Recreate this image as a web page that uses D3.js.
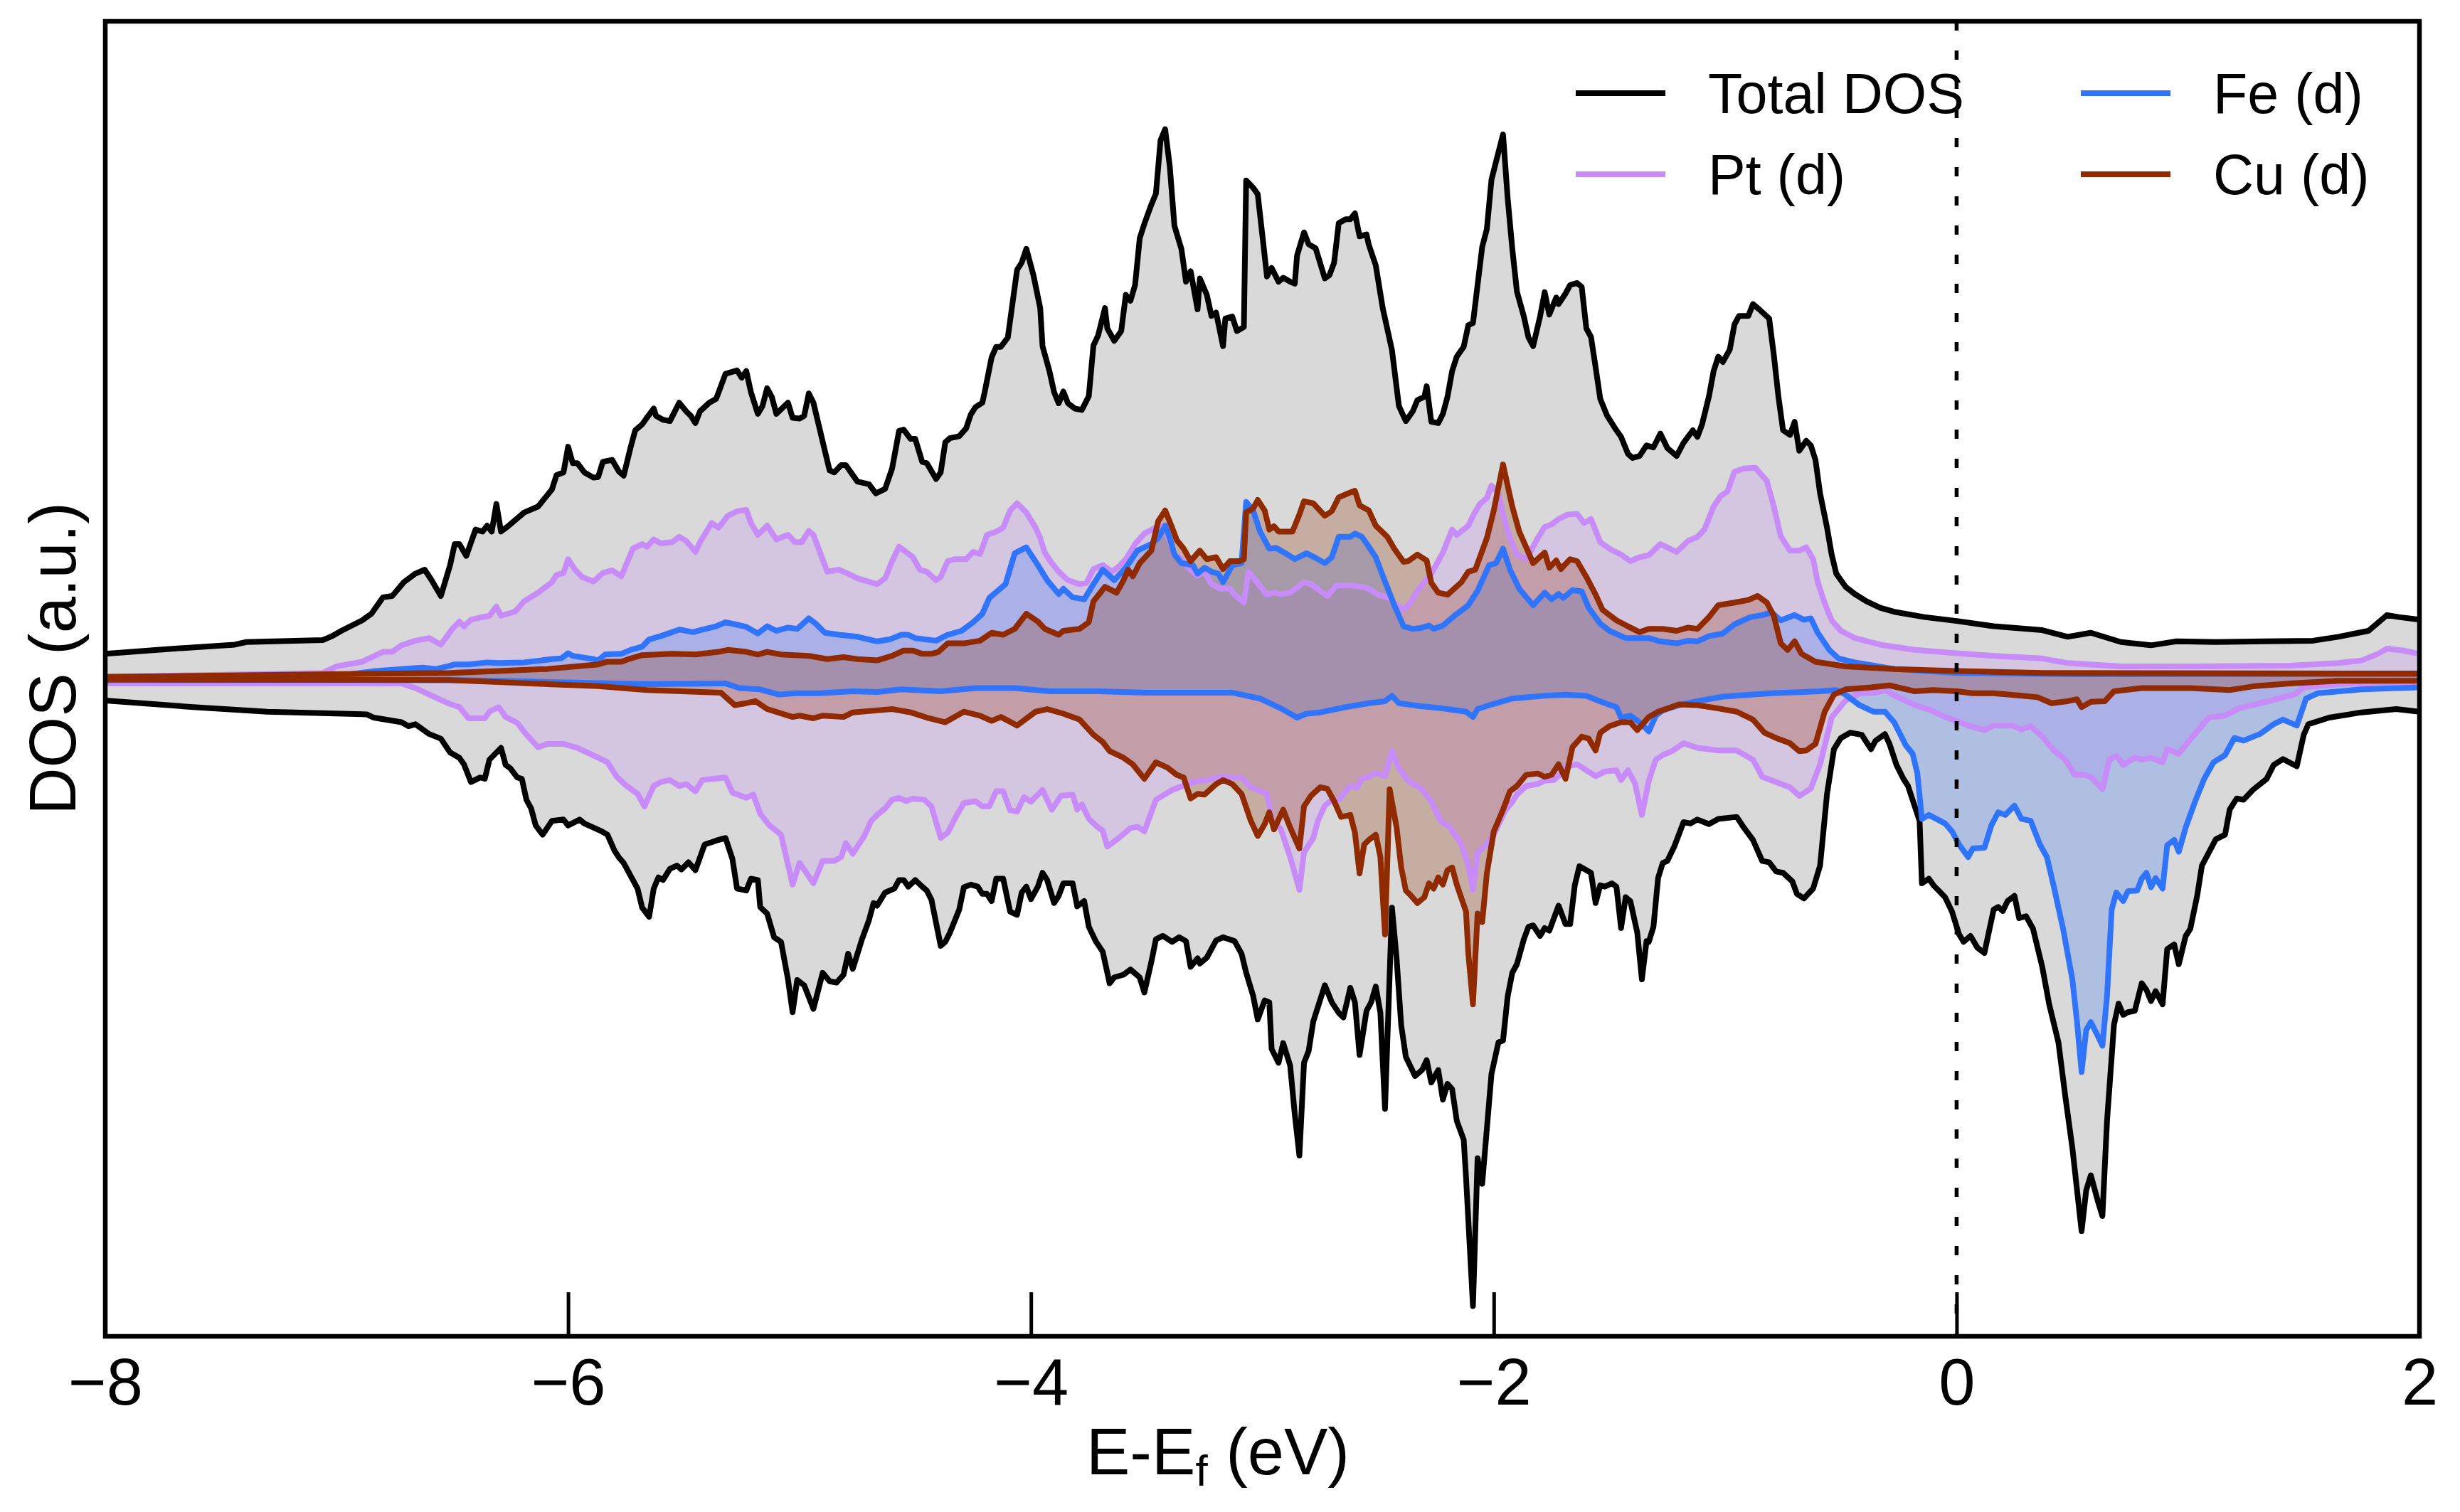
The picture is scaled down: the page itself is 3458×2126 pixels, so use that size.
<!DOCTYPE html>
<html>
<head>
<meta charset="utf-8">
<script src="https://cdn.jsdelivr.net/npm/d3@7"></script>
<style>
html,body{margin:0;padding:0;background:#fff;}
svg{display:block;}
text{font-family:"Liberation Sans",Arial,sans-serif;fill:#000;}
</style>
</head>
<body>
<svg id="chart" width="3458" height="2126"></svg>
<script>
// ---------- data (energy in eV, DOS in arbitrary units; spin down negative) ----------
const xTicks = [-8, -6, -4, -2, 0, 2];
const seriesNames = ["Total DOS", "Pt (d)", "Fe (d)", "Cu (d)"];

const totalUp = [[-8.00,0.38],[-7.70,0.46],[-7.44,0.52],[-7.39,0.56],[-7.06,0.59],[-7.02,0.65],[-6.98,0.73],[-6.89,0.89],[-6.85,0.99],[-6.80,1.24],[-6.76,1.26],[-6.71,1.47],[-6.66,1.60],[-6.62,1.66],[-6.59,1.50],[-6.55,1.26],[-6.51,1.73],[-6.49,2.05],[-6.47,2.05],[-6.44,1.87],[-6.40,2.27],[-6.37,2.24],[-6.35,2.33],[-6.33,2.24],[-6.31,2.66],[-6.29,2.24],[-6.26,2.32],[-6.19,2.53],[-6.13,2.62],[-6.07,2.88],[-6.05,3.10],[-6.02,3.14],[-6.00,3.53],[-5.98,3.28],[-5.96,3.28],[-5.93,3.14],[-5.89,3.06],[-5.87,3.07],[-5.85,3.30],[-5.81,3.33],[-5.78,3.15],[-5.76,3.09],[-5.73,3.52],[-5.71,3.78],[-5.68,3.87],[-5.66,3.97],[-5.63,4.11],[-5.62,4.00],[-5.59,3.94],[-5.56,3.92],[-5.52,4.20],[-5.49,4.07],[-5.47,4.00],[-5.45,3.89],[-5.43,4.07],[-5.39,4.20],[-5.36,4.26],[-5.32,4.64],[-5.27,4.69],[-5.25,4.58],[-5.23,4.68],[-5.21,4.36],[-5.18,4.03],[-5.16,4.15],[-5.14,4.42],[-5.12,4.29],[-5.10,4.03],[-5.05,4.20],[-5.03,3.97],[-5.00,3.96],[-4.98,4.00],[-4.96,4.34],[-4.94,4.20],[-4.89,3.46],[-4.87,3.17],[-4.85,3.14],[-4.82,3.25],[-4.80,3.25],[-4.77,3.10],[-4.75,3.00],[-4.70,2.96],[-4.67,2.82],[-4.63,2.89],[-4.60,3.20],[-4.57,3.77],[-4.55,3.79],[-4.52,3.65],[-4.50,3.65],[-4.47,3.30],[-4.45,3.28],[-4.41,3.04],[-4.39,3.14],[-4.37,3.60],[-4.35,3.66],[-4.31,3.69],[-4.28,3.81],[-4.26,4.02],[-4.24,4.13],[-4.21,4.20],[-4.20,4.36],[-4.17,4.89],[-4.15,5.05],[-4.13,5.05],[-4.10,5.19],[-4.06,6.22],[-4.04,6.33],[-4.02,6.54],[-3.99,6.15],[-3.96,5.64],[-3.95,5.06],[-3.92,4.68],[-3.90,4.36],[-3.88,4.19],[-3.86,4.37],[-3.84,4.19],[-3.81,4.11],[-3.78,4.09],[-3.75,4.30],[-3.73,5.07],[-3.71,5.22],[-3.68,5.64],[-3.67,5.33],[-3.64,5.14],[-3.61,5.29],[-3.59,5.84],[-3.57,5.75],[-3.55,5.99],[-3.53,6.70],[-3.51,6.92],[-3.48,7.21],[-3.46,7.38],[-3.44,8.19],[-3.42,8.36],[-3.40,7.79],[-3.38,6.89],[-3.35,6.54],[-3.33,6.04],[-3.31,6.20],[-3.28,5.62],[-3.27,6.09],[-3.24,5.84],[-3.22,5.52],[-3.20,5.57],[-3.17,5.06],[-3.16,5.48],[-3.13,5.51],[-3.11,5.29],[-3.08,5.35],[-3.07,7.58],[-3.04,7.47],[-3.02,7.37],[-2.98,6.12],[-2.96,6.25],[-2.93,6.04],[-2.91,6.10],[-2.88,6.04],[-2.86,6.01],[-2.85,6.44],[-2.82,6.79],[-2.80,6.61],[-2.77,6.55],[-2.73,6.09],[-2.71,6.14],[-2.69,6.33],[-2.67,6.93],[-2.64,6.99],[-2.62,6.99],[-2.60,7.08],[-2.58,6.73],[-2.55,6.76],[-2.54,6.60],[-2.51,6.29],[-2.48,5.64],[-2.44,5.00],[-2.41,4.15],[-2.38,3.92],[-2.35,4.07],[-2.33,4.24],[-2.30,4.29],[-2.29,4.45],[-2.27,3.91],[-2.24,3.89],[-2.22,4.03],[-2.20,4.29],[-2.18,4.68],[-2.16,4.90],[-2.13,5.05],[-2.11,5.38],[-2.09,5.41],[-2.05,6.57],[-2.03,6.84],[-2.01,7.59],[-1.99,7.87],[-1.96,8.28],[-1.94,7.31],[-1.92,6.54],[-1.90,5.89],[-1.87,5.51],[-1.85,5.19],[-1.83,5.06],[-1.80,5.51],[-1.78,5.88],[-1.76,5.54],[-1.73,5.80],[-1.72,5.70],[-1.69,5.86],[-1.67,5.99],[-1.64,6.02],[-1.62,5.96],[-1.60,5.33],[-1.58,5.20],[-1.56,4.74],[-1.54,4.26],[-1.51,4.00],[-1.47,3.78],[-1.45,3.68],[-1.42,3.42],[-1.40,3.36],[-1.37,3.39],[-1.34,3.55],[-1.31,3.52],[-1.28,3.73],[-1.25,3.51],[-1.21,3.39],[-1.18,3.59],[-1.14,3.78],[-1.12,3.68],[-1.10,3.87],[-1.07,4.30],[-1.05,4.68],[-1.03,4.90],[-1.01,4.82],[-0.98,5.01],[-0.96,5.39],[-0.94,5.52],[-0.90,5.52],[-0.88,5.70],[-0.85,5.61],[-0.81,5.48],[-0.79,4.93],[-0.77,4.29],[-0.75,3.78],[-0.72,3.71],[-0.70,3.91],[-0.68,3.47],[-0.65,3.62],[-0.63,3.55],[-0.61,3.33],[-0.59,2.82],[-0.56,2.30],[-0.54,1.89],[-0.52,1.60],[-0.48,1.40],[-0.44,1.29],[-0.39,1.18],[-0.33,1.08],[-0.27,1.02],[-0.14,0.94],[0.00,0.88],[0.16,0.80],[0.37,0.74],[0.48,0.64],[0.58,0.70],[0.71,0.56],[0.84,0.51],[0.95,0.57],[1.12,0.56],[1.33,0.57],[1.54,0.58],[1.65,0.64],[1.78,0.73],[1.86,0.97],[1.91,0.94],[2.00,0.90]];

const totalDown = [[-8.00,-0.33],[-7.62,-0.43],[-7.30,-0.50],[-6.87,-0.54],[-6.84,-0.59],[-6.72,-0.66],[-6.69,-0.72],[-6.66,-0.69],[-6.60,-0.84],[-6.55,-0.91],[-6.51,-1.12],[-6.47,-1.20],[-6.45,-1.30],[-6.42,-1.57],[-6.38,-1.50],[-6.36,-1.52],[-6.34,-1.23],[-6.29,-1.05],[-6.27,-1.31],[-6.25,-1.36],[-6.22,-1.50],[-6.20,-1.52],[-6.18,-1.84],[-6.16,-1.97],[-6.14,-2.23],[-6.11,-2.37],[-6.07,-2.16],[-6.02,-2.14],[-6.00,-2.23],[-5.95,-2.14],[-5.93,-2.20],[-5.86,-2.31],[-5.83,-2.37],[-5.80,-2.61],[-5.78,-2.72],[-5.76,-2.80],[-5.70,-3.19],[-5.68,-3.48],[-5.65,-3.62],[-5.63,-3.19],[-5.61,-3.02],[-5.59,-3.06],[-5.56,-2.89],[-5.53,-2.84],[-5.51,-2.90],[-5.48,-2.79],[-5.45,-2.91],[-5.41,-2.52],[-5.36,-2.46],[-5.32,-2.42],[-5.29,-2.74],[-5.27,-3.19],[-5.23,-3.22],[-5.21,-3.04],[-5.18,-3.06],[-5.17,-3.47],[-5.14,-3.57],[-5.11,-3.93],[-5.08,-4.00],[-5.05,-4.57],[-5.03,-5.07],[-5.01,-4.58],[-4.98,-4.66],[-4.94,-5.02],[-4.90,-4.47],[-4.87,-4.60],[-4.84,-4.62],[-4.81,-4.50],[-4.79,-4.18],[-4.77,-4.41],[-4.73,-3.96],[-4.70,-3.67],[-4.68,-3.41],[-4.665,-3.45],[-4.63,-3.25],[-4.59,-3.19],[-4.57,-3.06],[-4.55,-3.06],[-4.53,-3.16],[-4.50,-3.06],[-4.47,-3.16],[-4.45,-3.22],[-4.43,-3.36],[-4.39,-4.06],[-4.37,-4.00],[-4.35,-3.86],[-4.31,-3.51],[-4.29,-3.17],[-4.26,-3.13],[-4.23,-3.16],[-4.21,-3.27],[-4.19,-3.27],[-4.17,-3.38],[-4.15,-3.04],[-4.12,-3.04],[-4.09,-3.54],[-4.06,-3.59],[-4.04,-3.25],[-4.02,-3.16],[-4.00,-3.35],[-3.97,-3.16],[-3.95,-2.95],[-3.93,-3.06],[-3.90,-3.41],[-3.88,-3.30],[-3.86,-3.11],[-3.82,-3.11],[-3.80,-3.46],[-3.77,-3.38],[-3.75,-3.77],[-3.72,-3.99],[-3.69,-4.15],[-3.66,-4.63],[-3.64,-4.54],[-3.60,-4.50],[-3.57,-4.42],[-3.53,-4.54],[-3.51,-4.77],[-3.48,-4.31],[-3.46,-3.96],[-3.43,-3.91],[-3.39,-4.00],[-3.36,-3.93],[-3.33,-3.99],[-3.31,-4.38],[-3.28,-4.25],[-3.27,-4.33],[-3.24,-4.24],[-3.20,-3.98],[-3.17,-3.93],[-3.12,-3.99],[-3.09,-4.18],[-3.07,-4.47],[-3.04,-4.82],[-3.02,-5.18],[-2.99,-4.89],[-2.97,-4.92],[-2.96,-5.63],[-2.93,-5.84],[-2.91,-5.54],[-2.88,-5.88],[-2.86,-6.62],[-2.84,-7.25],[-2.82,-5.84],[-2.80,-5.66],[-2.78,-5.21],[-2.73,-4.66],[-2.70,-4.92],[-2.67,-5.08],[-2.65,-5.15],[-2.62,-4.70],[-2.60,-4.92],[-2.58,-5.72],[-2.55,-5.05],[-2.53,-4.92],[-2.51,-4.68],[-2.49,-5.08],[-2.47,-6.54],[-2.44,-3.48],[-2.42,-4.25],[-2.40,-5.27],[-2.38,-5.75],[-2.34,-6.04],[-2.31,-5.95],[-2.29,-5.80],[-2.27,-6.14],[-2.24,-5.95],[-2.22,-6.40],[-2.20,-6.16],[-2.18,-6.24],[-2.16,-6.72],[-2.13,-7.01],[-2.12,-7.58],[-2.09,-9.54],[-2.07,-7.29],[-2.05,-7.68],[-2.01,-6.01],[-1.98,-5.53],[-1.96,-5.50],[-1.94,-4.83],[-1.92,-4.47],[-1.90,-4.34],[-1.87,-3.96],[-1.85,-3.77],[-1.83,-3.75],[-1.80,-3.91],[-1.78,-3.79],[-1.76,-3.83],[-1.72,-3.45],[-1.69,-3.73],[-1.67,-3.73],[-1.65,-3.14],[-1.63,-2.85],[-1.60,-2.91],[-1.58,-2.95],[-1.56,-3.41],[-1.54,-3.14],[-1.52,-3.16],[-1.49,-3.11],[-1.47,-3.16],[-1.45,-3.79],[-1.43,-3.32],[-1.41,-3.38],[-1.38,-3.86],[-1.36,-4.57],[-1.34,-3.99],[-1.33,-4.00],[-1.31,-3.77],[-1.29,-3.03],[-1.27,-2.80],[-1.25,-2.77],[-1.22,-2.55],[-1.18,-2.18],[-1.15,-2.20],[-1.12,-2.14],[-1.07,-2.21],[-1.03,-2.13],[-0.95,-2.10],[-0.92,-2.26],[-0.88,-2.45],[-0.84,-2.77],[-0.81,-2.79],[-0.78,-2.93],[-0.75,-2.95],[-0.71,-3.08],[-0.69,-3.27],[-0.66,-3.34],[-0.62,-3.19],[-0.59,-2.84],[-0.56,-1.75],[-0.53,-1.07],[-0.50,-0.90],[-0.46,-0.82],[-0.41,-0.85],[-0.37,-1.07],[-0.35,-0.94],[-0.31,-0.84],[-0.29,-0.99],[-0.26,-1.31],[-0.23,-1.52],[-0.21,-1.63],[-0.16,-2.16],[-0.15,-3.11],[-0.12,-3.04],[-0.10,-3.14],[-0.05,-3.32],[-0.02,-3.54],[0.01,-3.88],[0.03,-4.00],[0.06,-3.91],[0.09,-4.09],[0.12,-4.17],[0.16,-3.51],[0.18,-3.47],[0.20,-3.53],[0.22,-3.38],[0.25,-3.30],[0.27,-3.64],[0.30,-3.61],[0.33,-3.80],[0.37,-4.38],[0.40,-4.95],[0.44,-5.53],[0.47,-6.36],[0.50,-7.13],[0.54,-8.40],[0.56,-7.78],[0.58,-7.55],[0.61,-7.94],[0.63,-8.17],[0.65,-6.72],[0.68,-5.26],[0.70,-4.94],[0.72,-5.11],[0.74,-5.07],[0.77,-5.05],[0.80,-4.63],[0.82,-4.73],[0.84,-4.90],[0.86,-4.75],[0.89,-4.95],[0.91,-4.11],[0.94,-4.04],[0.96,-4.34],[0.99,-3.91],[1.01,-3.80],[1.04,-3.29],[1.06,-2.84],[1.09,-2.64],[1.12,-2.44],[1.16,-2.37],[1.18,-1.99],[1.21,-1.82],[1.24,-1.84],[1.28,-1.69],[1.34,-1.52],[1.37,-1.31],[1.41,-1.22],[1.47,-1.33],[1.50,-0.85],[1.52,-0.69],[1.61,-0.59],[1.75,-0.51],[1.90,-0.46],[2.00,-0.50]];

const ptUp = [[-8.00,0.03],[-7.06,0.09],[-7.00,0.19],[-6.89,0.26],[-6.80,0.41],[-6.76,0.41],[-6.72,0.51],[-6.66,0.58],[-6.60,0.62],[-6.55,0.52],[-6.50,0.76],[-6.47,0.87],[-6.45,0.80],[-6.42,0.90],[-6.37,0.94],[-6.34,0.96],[-6.31,1.10],[-6.29,0.96],[-6.23,1.02],[-6.19,1.18],[-6.13,1.31],[-6.07,1.47],[-6.05,1.58],[-6.02,1.61],[-6.00,1.82],[-5.97,1.66],[-5.94,1.55],[-5.89,1.48],[-5.85,1.61],[-5.81,1.65],[-5.77,1.56],[-5.75,1.73],[-5.72,1.98],[-5.68,2.05],[-5.66,2.01],[-5.63,2.12],[-5.60,2.06],[-5.55,2.08],[-5.52,2.16],[-5.49,2.10],[-5.45,1.93],[-5.43,2.08],[-5.38,2.37],[-5.35,2.30],[-5.31,2.48],[-5.27,2.55],[-5.23,2.57],[-5.21,2.37],[-5.18,2.19],[-5.14,2.33],[-5.10,2.12],[-5.05,2.19],[-5.02,2.08],[-4.99,2.08],[-4.96,2.25],[-4.94,2.19],[-4.88,1.63],[-4.83,1.66],[-4.79,1.60],[-4.75,1.53],[-4.665,1.44],[-4.63,1.53],[-4.60,1.79],[-4.57,2.01],[-4.54,1.93],[-4.51,1.85],[-4.48,1.66],[-4.45,1.63],[-4.41,1.50],[-4.39,1.55],[-4.36,1.79],[-4.33,1.82],[-4.28,1.82],[-4.25,1.93],[-4.22,1.90],[-4.19,2.19],[-4.15,2.24],[-4.12,2.30],[-4.09,2.56],[-4.06,2.67],[-4.02,2.53],[-3.98,2.30],[-3.96,2.14],[-3.94,1.92],[-3.91,1.76],[-3.88,1.63],[-3.84,1.50],[-3.79,1.44],[-3.76,1.46],[-3.73,1.67],[-3.69,1.73],[-3.65,1.63],[-3.62,1.71],[-3.59,1.82],[-3.55,2.05],[-3.51,2.21],[-3.46,2.30],[-3.43,2.33],[-3.40,2.11],[-3.38,1.90],[-3.35,1.82],[-3.32,1.69],[-3.28,1.57],[-3.25,1.63],[-3.22,1.44],[-3.18,1.37],[-3.14,1.37],[-3.12,1.28],[-3.08,1.16],[-3.06,1.63],[-3.03,1.50],[-2.98,1.28],[-2.95,1.31],[-2.92,1.29],[-2.88,1.31],[-2.82,1.47],[-2.79,1.44],[-2.75,1.34],[-2.72,1.26],[-2.68,1.42],[-2.62,1.42],[-2.57,1.40],[-2.54,1.37],[-2.50,1.28],[-2.45,1.23],[-2.42,1.12],[-2.39,1.05],[-2.36,1.16],[-2.33,1.34],[-2.27,1.60],[-2.22,1.92],[-2.18,2.27],[-2.16,2.19],[-2.11,2.33],[-2.09,2.48],[-2.06,2.66],[-2.03,2.75],[-2.01,2.94],[-1.98,2.82],[-1.96,2.50],[-1.93,2.14],[-1.90,1.89],[-1.86,1.82],[-1.81,2.14],[-1.78,2.31],[-1.75,2.35],[-1.72,2.43],[-1.68,2.50],[-1.64,2.51],[-1.61,2.37],[-1.58,2.43],[-1.54,2.08],[-1.50,1.98],[-1.45,1.89],[-1.41,1.79],[-1.37,1.85],[-1.33,1.88],[-1.28,2.05],[-1.21,1.93],[-1.16,2.10],[-1.12,2.16],[-1.09,2.27],[-1.05,2.62],[-1.02,2.78],[-0.99,2.85],[-0.96,3.15],[-0.92,3.20],[-0.87,3.21],[-0.82,3.01],[-0.79,2.62],[-0.76,2.17],[-0.72,1.95],[-0.68,1.95],[-0.65,2.00],[-0.62,1.82],[-0.60,1.47],[-0.57,1.15],[-0.54,0.89],[-0.50,0.73],[-0.44,0.62],[-0.33,0.52],[-0.18,0.44],[0.00,0.39],[0.16,0.35],[0.37,0.31],[0.48,0.24],[0.71,0.19],[1.01,0.19],[1.44,0.20],[1.65,0.24],[1.75,0.28],[1.82,0.38],[1.86,0.46],[1.93,0.43],[2.00,0.38]];

const ptDown = [[-8.00,-0.07],[-6.72,-0.07],[-6.66,-0.14],[-6.60,-0.24],[-6.52,-0.37],[-6.47,-0.43],[-6.43,-0.60],[-6.36,-0.60],[-6.34,-0.50],[-6.30,-0.43],[-6.27,-0.58],[-6.22,-0.67],[-6.18,-0.85],[-6.13,-1.04],[-6.09,-0.99],[-6.02,-0.99],[-5.96,-1.05],[-5.87,-1.20],[-5.83,-1.27],[-5.79,-1.49],[-5.75,-1.62],[-5.70,-1.75],[-5.67,-1.94],[-5.63,-1.63],[-5.60,-1.57],[-5.56,-1.54],[-5.52,-1.63],[-5.49,-1.60],[-5.45,-1.71],[-5.42,-1.54],[-5.32,-1.50],[-5.29,-1.73],[-5.23,-1.81],[-5.20,-1.76],[-5.17,-2.05],[-5.13,-2.23],[-5.08,-2.37],[-5.03,-3.13],[-5.00,-2.80],[-4.94,-3.11],[-4.90,-2.77],[-4.85,-2.77],[-4.82,-2.71],[-4.80,-2.50],[-4.77,-2.66],[-4.72,-2.39],[-4.69,-2.16],[-4.665,-2.07],[-4.63,-1.97],[-4.60,-1.84],[-4.57,-1.81],[-4.54,-1.86],[-4.51,-1.82],[-4.46,-1.84],[-4.43,-1.94],[-4.39,-2.42],[-4.36,-2.34],[-4.32,-2.07],[-4.29,-1.89],[-4.24,-1.86],[-4.21,-1.94],[-4.18,-1.94],[-4.15,-1.71],[-4.12,-1.71],[-4.09,-2.00],[-4.06,-2.02],[-4.03,-1.80],[-4.00,-1.87],[-3.95,-1.69],[-3.91,-1.99],[-3.87,-1.78],[-3.82,-1.76],[-3.80,-1.99],[-3.78,-1.91],[-3.75,-2.13],[-3.71,-2.26],[-3.69,-2.31],[-3.67,-2.55],[-3.62,-2.42],[-3.57,-2.27],[-3.54,-2.25],[-3.51,-2.32],[-3.46,-1.84],[-3.39,-1.69],[-3.30,-1.57],[-3.24,-1.54],[-3.18,-1.49],[-3.09,-1.50],[-3.05,-1.65],[-2.98,-1.75],[-2.96,-2.13],[-2.92,-2.29],[-2.88,-2.71],[-2.84,-3.21],[-2.82,-2.64],[-2.78,-2.42],[-2.76,-2.16],[-2.73,-1.93],[-2.71,-1.87],[-2.67,-1.84],[-2.62,-1.63],[-2.59,-1.65],[-2.57,-1.52],[-2.54,-1.49],[-2.51,-1.43],[-2.47,-1.48],[-2.44,-1.10],[-2.41,-1.37],[-2.37,-1.55],[-2.31,-1.68],[-2.27,-1.87],[-2.23,-2.16],[-2.19,-2.26],[-2.14,-2.52],[-2.11,-2.84],[-2.09,-3.21],[-2.07,-2.64],[-2.03,-2.52],[-2.00,-2.37],[-1.95,-2.00],[-1.92,-1.87],[-1.90,-1.76],[-1.86,-1.63],[-1.81,-1.60],[-1.78,-1.55],[-1.74,-1.54],[-1.71,-1.44],[-1.69,-1.33],[-1.64,-1.30],[-1.60,-1.39],[-1.56,-1.48],[-1.52,-1.41],[-1.47,-1.39],[-1.45,-1.54],[-1.42,-1.39],[-1.39,-1.59],[-1.36,-2.07],[-1.33,-1.55],[-1.30,-1.23],[-1.27,-1.16],[-1.23,-1.10],[-1.18,-0.98],[-1.12,-1.05],[-1.03,-1.09],[-0.95,-1.09],[-0.88,-1.23],[-0.84,-1.49],[-0.78,-1.57],[-0.72,-1.65],[-0.68,-1.78],[-0.63,-1.67],[-0.59,-1.30],[-0.54,-0.59],[-0.48,-0.33],[-0.42,-0.22],[-0.35,-0.21],[-0.31,-0.17],[-0.26,-0.27],[-0.18,-0.40],[-0.11,-0.48],[-0.05,-0.58],[0.00,-0.64],[0.05,-0.71],[0.12,-0.78],[0.16,-0.71],[0.24,-0.71],[0.28,-0.77],[0.32,-0.72],[0.37,-0.88],[0.42,-1.09],[0.47,-1.23],[0.51,-1.46],[0.55,-1.46],[0.58,-1.49],[0.63,-1.68],[0.66,-1.23],[0.69,-1.17],[0.72,-1.31],[0.77,-1.20],[0.80,-1.23],[0.84,-1.20],[0.89,-1.27],[0.91,-1.07],[0.96,-1.14],[0.99,-1.01],[1.02,-0.88],[1.09,-0.59],[1.16,-0.56],[1.22,-0.45],[1.35,-0.34],[1.41,-0.28],[1.46,-0.24],[1.50,-0.13],[1.65,-0.08],[2.00,-0.05]];

const feUp = [[-8.00,0.03],[-7.06,0.03],[-6.94,0.07],[-6.83,0.12],[-6.72,0.15],[-6.63,0.17],[-6.57,0.15],[-6.52,0.19],[-6.49,0.22],[-6.43,0.22],[-6.35,0.25],[-6.30,0.24],[-6.19,0.25],[-6.07,0.30],[-6.03,0.31],[-6.00,0.39],[-5.98,0.35],[-5.89,0.30],[-5.87,0.28],[-5.84,0.37],[-5.77,0.38],[-5.73,0.44],[-5.68,0.49],[-5.65,0.60],[-5.60,0.65],[-5.55,0.71],[-5.52,0.75],[-5.46,0.71],[-5.43,0.74],[-5.36,0.80],[-5.32,0.86],[-5.28,0.83],[-5.23,0.79],[-5.18,0.69],[-5.14,0.80],[-5.10,0.73],[-5.05,0.78],[-5.01,0.76],[-4.96,0.92],[-4.93,0.84],[-4.89,0.70],[-4.83,0.67],[-4.75,0.64],[-4.665,0.57],[-4.61,0.60],[-4.56,0.67],[-4.53,0.67],[-4.50,0.62],[-4.41,0.58],[-4.36,0.67],[-4.30,0.73],[-4.25,0.86],[-4.21,0.99],[-4.18,1.23],[-4.14,1.35],[-4.11,1.44],[-4.07,1.91],[-4.02,2.00],[-3.97,1.73],[-3.93,1.50],[-3.88,1.29],[-3.86,1.37],[-3.82,1.24],[-3.77,1.21],[-3.73,1.44],[-3.69,1.66],[-3.64,1.50],[-3.59,1.69],[-3.54,1.95],[-3.48,2.05],[-3.45,2.14],[-3.42,2.33],[-3.40,2.14],[-3.38,1.89],[-3.35,1.76],[-3.30,1.73],[-3.28,1.60],[-3.25,1.69],[-3.22,1.63],[-3.19,1.60],[-3.17,1.47],[-3.13,1.73],[-3.09,1.76],[-3.07,2.69],[-3.04,2.56],[-3.01,2.24],[-2.97,1.98],[-2.94,1.99],[-2.90,1.91],[-2.86,1.82],[-2.81,1.91],[-2.77,1.84],[-2.73,1.76],[-2.70,1.85],[-2.67,2.16],[-2.62,2.16],[-2.60,2.21],[-2.57,2.16],[-2.54,2.01],[-2.51,1.85],[-2.48,1.57],[-2.43,1.12],[-2.39,0.80],[-2.35,0.76],[-2.32,0.77],[-2.28,0.81],[-2.26,0.76],[-2.22,0.81],[-2.17,0.96],[-2.11,1.12],[-2.07,1.34],[-2.02,1.73],[-1.99,1.76],[-1.96,1.98],[-1.93,1.66],[-1.89,1.37],[-1.83,1.12],[-1.78,1.31],[-1.75,1.21],[-1.72,1.29],[-1.70,1.23],[-1.66,1.35],[-1.62,1.33],[-1.59,1.08],[-1.54,0.84],[-1.50,0.73],[-1.43,0.62],[-1.37,0.62],[-1.33,0.62],[-1.28,0.57],[-1.21,0.54],[-1.16,0.58],[-1.12,0.57],[-1.07,0.65],[-1.01,0.69],[-0.96,0.83],[-0.89,0.94],[-0.84,0.97],[-0.80,1.01],[-0.76,0.89],[-0.70,0.97],[-0.66,0.90],[-0.63,0.92],[-0.60,0.70],[-0.55,0.44],[-0.51,0.31],[-0.44,0.25],[-0.27,0.15],[0.00,0.09],[0.50,0.07],[2.00,0.07]];

const feDown = [[-8.00,-0.02],[-6.51,-0.02],[-6.30,-0.03],[-5.66,-0.08],[-5.32,-0.07],[-5.26,-0.14],[-5.17,-0.16],[-5.09,-0.24],[-5.02,-0.22],[-4.91,-0.22],[-4.77,-0.19],[-4.665,-0.20],[-4.56,-0.16],[-4.39,-0.19],[-4.24,-0.14],[-4.07,-0.14],[-3.92,-0.19],[-3.71,-0.19],[-3.50,-0.21],[-3.28,-0.21],[-3.13,-0.21],[-3.01,-0.30],[-2.92,-0.45],[-2.85,-0.59],[-2.81,-0.53],[-2.75,-0.51],[-2.64,-0.43],[-2.54,-0.37],[-2.47,-0.34],[-2.44,-0.26],[-2.41,-0.37],[-2.33,-0.41],[-2.22,-0.45],[-2.12,-0.50],[-2.09,-0.58],[-2.07,-0.46],[-2.01,-0.39],[-1.92,-0.30],[-1.79,-0.26],[-1.69,-0.24],[-1.60,-0.26],[-1.52,-0.37],[-1.47,-0.43],[-1.45,-0.59],[-1.41,-0.56],[-1.37,-0.66],[-1.33,-0.80],[-1.30,-0.56],[-1.27,-0.48],[-1.20,-0.40],[-1.12,-0.34],[-1.01,-0.27],[-0.80,-0.22],[-0.59,-0.19],[-0.52,-0.17],[-0.48,-0.24],[-0.42,-0.40],[-0.36,-0.50],[-0.31,-0.50],[-0.27,-0.66],[-0.22,-1.01],[-0.19,-1.14],[-0.17,-1.43],[-0.15,-2.13],[-0.12,-2.07],[-0.05,-2.20],[-0.02,-2.32],[0.01,-2.52],[0.05,-2.71],[0.07,-2.58],[0.12,-2.57],[0.15,-2.23],[0.18,-2.03],[0.21,-2.07],[0.25,-1.93],[0.28,-2.13],[0.32,-2.16],[0.36,-2.52],[0.39,-2.71],[0.42,-3.16],[0.46,-3.80],[0.50,-4.57],[0.52,-5.21],[0.54,-5.98],[0.56,-5.34],[0.58,-5.22],[0.61,-5.43],[0.63,-5.58],[0.65,-4.82],[0.67,-3.51],[0.69,-3.25],[0.72,-3.38],[0.74,-3.23],[0.78,-3.22],[0.80,-3.04],[0.82,-2.95],[0.84,-3.17],[0.86,-3.03],[0.89,-3.19],[0.91,-2.53],[0.94,-2.45],[0.96,-2.63],[0.99,-2.26],[1.03,-1.87],[1.07,-1.52],[1.11,-1.27],[1.16,-1.16],[1.20,-0.90],[1.24,-0.94],[1.31,-0.84],[1.37,-0.69],[1.41,-0.62],[1.47,-0.71],[1.51,-0.30],[1.56,-0.22],[1.75,-0.16],[2.00,-0.13]];

const cuUp = [[-8.00,0.03],[-6.51,0.09],[-6.30,0.12],[-6.09,0.15],[-5.87,0.22],[-5.83,0.26],[-5.77,0.26],[-5.73,0.31],[-5.68,0.36],[-5.55,0.38],[-5.45,0.37],[-5.35,0.41],[-5.31,0.44],[-5.23,0.41],[-5.18,0.37],[-5.14,0.41],[-5.08,0.37],[-5.02,0.36],[-4.96,0.35],[-4.88,0.30],[-4.81,0.33],[-4.75,0.30],[-4.665,0.28],[-4.60,0.35],[-4.55,0.43],[-4.51,0.43],[-4.47,0.38],[-4.43,0.38],[-4.40,0.41],[-4.36,0.54],[-4.29,0.54],[-4.22,0.58],[-4.17,0.70],[-4.12,0.67],[-4.07,0.76],[-4.02,0.99],[-3.97,0.87],[-3.94,0.76],[-3.88,0.67],[-3.86,0.73],[-3.79,0.76],[-3.75,0.86],[-3.73,1.18],[-3.70,1.31],[-3.68,1.40],[-3.63,1.31],[-3.60,1.50],[-3.58,1.66],[-3.56,1.56],[-3.53,1.76],[-3.48,1.95],[-3.45,2.40],[-3.42,2.56],[-3.39,2.30],[-3.37,2.11],[-3.34,1.98],[-3.31,1.79],[-3.27,1.95],[-3.24,1.82],[-3.20,1.85],[-3.17,1.67],[-3.14,1.79],[-3.10,1.79],[-3.08,1.82],[-3.07,2.53],[-3.04,2.59],[-3.02,2.72],[-2.99,2.56],[-2.97,2.27],[-2.95,2.32],[-2.93,2.24],[-2.87,2.24],[-2.84,2.50],[-2.82,2.70],[-2.78,2.67],[-2.73,2.48],[-2.70,2.55],[-2.67,2.76],[-2.63,2.82],[-2.60,2.86],[-2.58,2.64],[-2.54,2.56],[-2.51,2.33],[-2.46,2.16],[-2.43,1.98],[-2.39,1.78],[-2.37,1.79],[-2.33,1.89],[-2.29,1.80],[-2.27,1.46],[-2.24,1.31],[-2.20,1.28],[-2.14,1.47],[-2.11,1.63],[-2.08,1.66],[-2.03,2.14],[-2.00,2.56],[-1.96,3.26],[-1.92,2.62],[-1.89,2.24],[-1.86,2.00],[-1.83,1.76],[-1.78,1.92],[-1.76,1.69],[-1.73,1.80],[-1.71,1.67],[-1.67,1.82],[-1.64,1.79],[-1.60,1.55],[-1.56,1.28],[-1.53,1.05],[-1.47,0.89],[-1.41,0.78],[-1.37,0.71],[-1.33,0.76],[-1.27,0.76],[-1.21,0.73],[-1.16,0.78],[-1.12,0.76],[-1.07,0.94],[-1.03,1.12],[-0.96,1.16],[-0.90,1.20],[-0.86,1.26],[-0.82,1.16],[-0.79,0.96],[-0.76,0.54],[-0.73,0.44],[-0.70,0.57],[-0.67,0.38],[-0.61,0.26],[-0.48,0.19],[-0.27,0.15],[0.00,0.12],[0.37,0.09],[2.00,0.08]];

const cuDown = [[-8.00,-0.01],[-6.51,-0.02],[-6.30,-0.05],[-6.09,-0.08],[-5.87,-0.11],[-5.66,-0.17],[-5.34,-0.21],[-5.28,-0.40],[-5.23,-0.37],[-5.19,-0.34],[-5.14,-0.46],[-5.03,-0.58],[-5.00,-0.56],[-4.94,-0.60],[-4.90,-0.56],[-4.81,-0.58],[-4.77,-0.51],[-4.665,-0.48],[-4.60,-0.46],[-4.52,-0.51],[-4.45,-0.59],[-4.37,-0.66],[-4.29,-0.50],[-4.22,-0.56],[-4.17,-0.64],[-4.13,-0.58],[-4.06,-0.71],[-3.98,-0.50],[-3.93,-0.46],[-3.86,-0.53],[-3.79,-0.62],[-3.73,-0.85],[-3.69,-0.96],[-3.66,-1.10],[-3.60,-1.20],[-3.56,-1.30],[-3.51,-1.52],[-3.46,-1.27],[-3.41,-1.35],[-3.37,-1.46],[-3.34,-1.50],[-3.31,-1.82],[-3.28,-1.75],[-3.25,-1.76],[-3.20,-1.60],[-3.17,-1.54],[-3.13,-1.60],[-3.09,-1.75],[-3.05,-2.16],[-3.02,-2.39],[-2.99,-2.21],[-2.97,-2.03],[-2.95,-2.29],[-2.91,-1.99],[-2.88,-2.26],[-2.84,-2.58],[-2.82,-1.94],[-2.79,-1.78],[-2.75,-1.65],[-2.72,-1.67],[-2.69,-1.86],[-2.66,-2.10],[-2.62,-2.07],[-2.60,-2.34],[-2.58,-2.96],[-2.56,-2.52],[-2.54,-2.45],[-2.51,-2.37],[-2.49,-2.71],[-2.47,-3.89],[-2.45,-1.68],[-2.42,-2.26],[-2.40,-2.87],[-2.38,-3.22],[-2.36,-3.29],[-2.33,-3.41],[-2.30,-3.32],[-2.28,-3.11],[-2.26,-3.19],[-2.24,-3.02],[-2.22,-3.13],[-2.20,-2.91],[-2.18,-2.87],[-2.16,-3.13],[-2.12,-3.54],[-2.11,-4.18],[-2.09,-4.95],[-2.07,-3.57],[-2.05,-3.70],[-2.03,-2.96],[-2.00,-2.32],[-1.96,-1.99],[-1.93,-1.71],[-1.90,-1.63],[-1.86,-1.46],[-1.81,-1.44],[-1.78,-1.49],[-1.75,-1.46],[-1.72,-1.30],[-1.69,-1.52],[-1.66,-1.04],[-1.62,-0.88],[-1.59,-0.91],[-1.56,-1.09],[-1.54,-0.82],[-1.50,-0.72],[-1.45,-0.66],[-1.41,-0.66],[-1.38,-0.78],[-1.33,-0.58],[-1.29,-0.50],[-1.20,-0.39],[-1.12,-0.40],[-1.03,-0.45],[-0.95,-0.50],[-0.88,-0.62],[-0.83,-0.82],[-0.78,-0.90],[-0.72,-0.98],[-0.68,-1.10],[-0.65,-1.09],[-0.61,-0.99],[-0.57,-0.50],[-0.53,-0.24],[-0.48,-0.16],[-0.37,-0.13],[-0.29,-0.10],[-0.18,-0.19],[-0.10,-0.17],[0.00,-0.19],[0.07,-0.22],[0.16,-0.22],[0.29,-0.26],[0.35,-0.28],[0.41,-0.37],[0.48,-0.34],[0.52,-0.31],[0.54,-0.43],[0.58,-0.35],[0.64,-0.34],[0.68,-0.19],[0.80,-0.14],[1.01,-0.14],[1.18,-0.17],[1.29,-0.11],[1.44,-0.07],[1.65,-0.03],[2.00,-0.03]];

// ---------- styles ----------
const colors = { total: "#000000", pt: "#c78cf8", fe: "#2f74fb", cu: "#902a00" };

// ---------- layout ----------
const W = 3458, H = 2126;
const plot = { left: 148, right: 3401, top: 30, bottom: 1879 };

const svg = d3.select("#chart");
const x = d3.scaleLinear().domain([-8, 2]).range([plot.left, plot.right]);
const y = d3.scaleLinear().domain([-10, 10]).range([plot.bottom, plot.top]);

svg.append("defs").append("clipPath").attr("id", "clip")
  .append("rect").attr("x", plot.left).attr("y", plot.top)
  .attr("width", plot.right - plot.left).attr("height", plot.bottom - plot.top);

const g = svg.append("g").attr("clip-path", "url(#clip)");

const area = d3.area().x(d => x(d[0])).y0(y(0)).y1(d => y(d[1]));
const line = d3.line().x(d => x(d[0])).y(d => y(d[1]));

const series = [
  { up: totalUp, down: totalDown, color: colors.total, fill: "rgba(0,0,0,0.15)" },
  { up: ptUp, down: ptDown, color: colors.pt, fill: colors.pt, op: 0.25 },
  { up: feUp, down: feDown, color: colors.fe, fill: colors.fe, op: 0.25 },
  { up: cuUp, down: cuDown, color: colors.cu, fill: colors.cu, op: 0.25 }
];

series.forEach(s => {
  [s.up, s.down].forEach(d => {
    g.append("path").datum(d).attr("d", area)
      .attr("fill", s.fill).attr("fill-opacity", s.op === undefined ? 1 : s.op)
      .attr("stroke", "none");
  });
});
series.forEach(s => {
  [s.up, s.down].forEach(d => {
    g.append("path").datum(d).attr("d", line)
      .attr("fill", "none").attr("stroke", s.color)
      .attr("stroke-width", 8).attr("stroke-linejoin", "round");
  });
});

// Fermi level
svg.append("line")
  .attr("x1", x(0)).attr("x2", x(0)).attr("y1", plot.top).attr("y2", plot.bottom)
  .attr("stroke", "#000").attr("stroke-width", 5.5).attr("stroke-dasharray", "13,28");

// x axis with inward ticks
const xAxis = d3.axisBottom(x).tickValues(xTicks).tickSize(-62).tickSizeOuter(0);
const ax = svg.append("g").attr("transform", `translate(0,${plot.bottom})`).call(xAxis);
ax.select(".domain").remove();
ax.selectAll(".tick line").attr("stroke", "#000").attr("stroke-width", 5);
ax.selectAll(".tick text")
  .attr("y", 96).attr("dy", 0)
  .style("font-family", "'Liberation Sans', Arial, sans-serif")
  .style("font-size", "92px").attr("fill", "#000");

// frame
svg.append("rect")
  .attr("x", plot.left).attr("y", plot.top)
  .attr("width", plot.right - plot.left).attr("height", plot.bottom - plot.top)
  .attr("fill", "none").attr("stroke", "#000").attr("stroke-width", 6.5);

// axis labels
const xl = svg.append("text").attr("x", 1712).attr("y", 2073)
  .attr("text-anchor", "middle").style("font-size", "92px");
xl.append("tspan").text("E-E");
xl.append("tspan").text("f").attr("dy", 16).style("font-size", "62px");
xl.append("tspan").text(" (eV)").attr("dy", -16);

svg.append("text")
  .attr("transform", "translate(106,926) rotate(-90)")
  .attr("text-anchor", "middle").style("font-size", "92px")
  .text("DOS (a.u.)");

// legend (2 columns, column-major like matplotlib)
const legendItems = [
  { name: seriesNames[0], color: colors.total, col: 0, row: 0 },
  { name: seriesNames[1], color: colors.pt, col: 0, row: 1 },
  { name: seriesNames[2], color: colors.fe, col: 1, row: 0 },
  { name: seriesNames[3], color: colors.cu, col: 1, row: 1 }
];
const colX = [2215, 2925];
const rowY = [131, 245];
legendItems.forEach(it => {
  const lx = colX[it.col], ly = rowY[it.row];
  svg.append("line").attr("x1", lx).attr("x2", lx + 126).attr("y1", ly).attr("y2", ly)
    .attr("stroke", it.color).attr("stroke-width", 8);
  svg.append("text").attr("x", lx + 186).attr("y", ly + 28)
    .style("font-size", "79px").text(it.name);
});
</script>
</body>
</html>
